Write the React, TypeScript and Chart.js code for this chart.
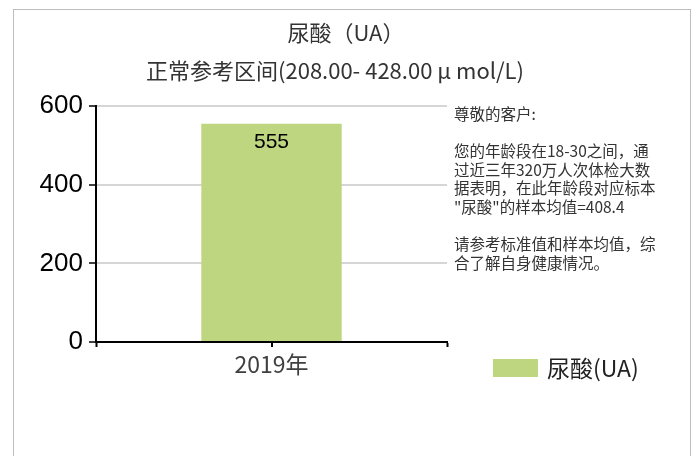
import React, { useEffect, useRef } from 'react';
import { Chart, registerables } from 'chart.js';

Chart.register(...registerables);

const categories = ['2019年'];
const seriesName = '尿酸(UA)';
const values = [555];
const yTickValues = [0, 200, 400, 600];
const titleText = '尿酸（UA）';
const subtitleText = '正常参考区间(208.00- 428.00 µ mol/L)';
const noteLines = [
  '尊敬的客户:',
  '',
  '您的年龄段在18-30之间，通',
  '过近三年320万人次体检大数',
  '据表明，在此年龄段对应标本',
  '"尿酸"的样本均值=408.4',
  '',
  '请参考标准值和样本均值，综',
  '合了解自身健康情况。',
];

const BAR_COLOR = '#bdd67f';
const CJK = '"Noto Sans CJK SC", "Noto Sans", sans-serif';
const LATIN = '"Liberation Sans", Arial, sans-serif';

export default function App() {
  const ref = useRef<HTMLCanvasElement>(null);

  useEffect(() => {
    const canvas = ref.current!;
    const overlay = {
      id: 'overlay',
      afterDatasetsDraw(chart: any) {
        const ctx = chart.ctx;
        const meta = chart.getDatasetMeta(0);
        ctx.save();
        ctx.fillStyle = '#000';
        ctx.font = `21px ${LATIN}`;
        ctx.textAlign = 'center';
        ctx.textBaseline = 'middle';
        meta.data.forEach((bar: any, i: number) => {
          ctx.fillText(String(chart.data.datasets[0].data[i]), bar.x, bar.y + 19);
        });
        ctx.restore();
      },
      afterDraw(chart: any) {
        const ctx = chart.ctx;
        const area = chart.chartArea;
        const xs = chart.scales.x;
        ctx.save();
        // center tick on x axis
        ctx.strokeStyle = '#000';
        ctx.lineWidth = 2;
        categories.forEach((_, i) => {
          const px = Math.round(xs.getPixelForValue(i));
          ctx.beginPath();
          ctx.moveTo(px, area.bottom);
          ctx.lineTo(px, area.bottom + 5);
          ctx.stroke();
        });
        // titles
        ctx.fillStyle = '#333';
        ctx.textAlign = 'center';
        ctx.textBaseline = 'middle';
        ctx.font = `22px ${CJK}`;
        ctx.fillText(titleText, 332, 23);
        ctx.font = `22px ${CJK}`;
        ctx.fillText(subtitleText, 321, 61);
        // note text
        ctx.textAlign = 'left';
        ctx.font = `15.5px ${CJK}`;
        ctx.fillStyle = '#333';
        noteLines.forEach((line, i) => {
          if (line) ctx.fillText(line, area.right + 7, 104 + i * 18.6);
        });
        // legend
        const ds = chart.data.datasets[0];
        ctx.fillStyle = ds.backgroundColor;
        ctx.fillRect(area.right + 46, 349, 45, 18);
        ctx.fillStyle = '#222';
        ctx.font = `23px ${CJK}`;
        ctx.fillText(ds.label, area.right + 100, 358);
        ctx.restore();
      },
    };

    const chart = new Chart(canvas, {
      type: 'bar',
      data: {
        labels: categories,
        datasets: [
          {
            label: seriesName,
            data: values,
            backgroundColor: BAR_COLOR,
            borderWidth: 0,
            barPercentage: 0.4,
            categoryPercentage: 1,
          },
        ],
      },
      options: {
        responsive: false,
        animation: false,
        layout: { padding: { left: 0, right: 243, top: 96, bottom: 64 } },
        plugins: {
          legend: { display: false },
          title: { display: false },
          tooltip: { enabled: false },
        },
        scales: {
          x: {
            offset: true,
            grid: {
              offset: true,
              drawOnChartArea: false,
              drawTicks: true,
              tickLength: 5,
              tickColor: '#000',
              tickWidth: 2,
            },
            border: { display: true, color: '#000', width: 2 },
            ticks: {
              color: '#404040',
              font: { family: CJK, size: 23 },
              padding: 3,
            },
            afterFit: (s: any) => {
              s.height = 50;
            },
          },
          y: {
            min: 0,
            max: 600,
            afterBuildTicks: (s: any) => {
              s.ticks = yTickValues.map((v) => ({ value: v }));
            },
            grid: {
              color: (c: any) => (c.tick && c.tick.value === 0 ? 'rgba(0,0,0,0)' : '#d6d6d6'),
              lineWidth: 2,
              tickLength: 7,
              tickColor: '#000',
              tickWidth: 1.5,
            },
            border: { display: true, color: '#000', width: 2 },
            ticks: {
              color: '#000',
              font: { family: LATIN, size: 26 },
              padding: 6,
            },
            afterFit: (s: any) => {
              s.width = 82;
            },
          },
        },
      },
      plugins: [overlay],
    });
    return () => chart.destroy();
  }, []);

  return (
    <div
      style={{
        position: 'fixed',
        left: 13,
        top: 9,
        width: 678,
        height: 470,
        border: '1px solid #bdbdbd',
        boxSizing: 'border-box',
        background: '#fff',
      }}
    >
      <canvas ref={ref} width={676} height={446} style={{ display: 'block', width: 676, height: 446 }} />
    </div>
  );
}
